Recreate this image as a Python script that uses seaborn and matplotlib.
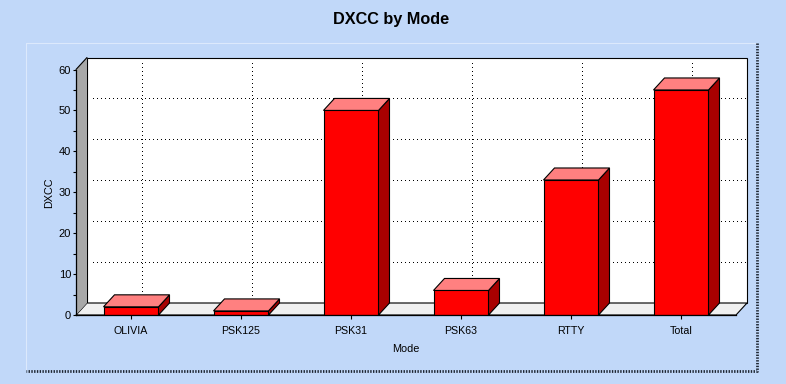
import matplotlib
matplotlib.use('Agg')
import matplotlib.pyplot as plt
import seaborn as sns
import pandas as pd
from matplotlib.lines import Line2D
from matplotlib.patches import Polygon
from matplotlib.ticker import MultipleLocator

modes = ['OLIVIA', 'PSK125', 'PSK31', 'PSK63', 'RTTY', 'Total']
dxcc = [2, 1, 50, 6, 33, 55]

W, H = 786, 384
BG = '#C1D8F9'
# depth of the fake 3d box in data units (11px across, 12px up)
DX = 0.1
DY = 2.93

sns.set_theme(style='white')
plt.rcParams['font.family'] = ['Liberation Sans', 'DejaVu Sans']

fig = plt.figure(figsize=(W / 100, H / 100), dpi=100, facecolor=BG)

# panel border
def fig_line(xs, ys, **kw):
    fig.add_artist(Line2D([x / W for x in xs], [1 - y / H for y in ys], **kw))

fig_line([25.5, 25.5, 756], [370, 42.5, 42.5], color='#DCE9FC', lw=0.8)
fig_line([757, 757, 26], [43, 371, 371], color='#1F2733', lw=2, ls=(0, (0.5, 0.5)))

ax = fig.add_axes([76 / W, (H - 315) / H, 660 / W, 245.5 / H])
ax.patch.set_alpha(0)

df = pd.DataFrame({'Mode': modes, 'DXCC': dxcc})
sns.barplot(data=df, x='Mode', y='DXCC', ax=ax, color='#FF0000', saturation=1,
            width=0.5, edgecolor='black', linewidth=0.8, zorder=5)
ax.set_xlim(-0.5, 5.5)
ax.set_ylim(0, 60)


def face(points, color, z, edge='black'):
    ax.add_patch(Polygon(points, closed=True, facecolor=color, edgecolor=edge,
                         linewidth=0.8, clip_on=False, zorder=z))


# walls and floor
face([(-0.5 + DX, DY), (5.5 + DX, DY), (5.5 + DX, 60 + DY), (-0.5 + DX, 60 + DY)], 'white', 1)
face([(-0.5, 0), (5.5, 0), (5.5 + DX, DY), (-0.5 + DX, DY)], '#F0F0F0', 2)
face([(-0.5, 0), (-0.5, 60), (-0.5 + DX, 60 + DY), (-0.5 + DX, DY)], '#A8A8A8', 2, edge='none')
ax.plot([-0.5, -0.5 + DX], [60, 60 + DY], color='black', lw=0.8, clip_on=False, zorder=3)

# dotted grid on the back wall
dots = dict(color='black', lw=1, ls=(0, (0.72, 2.88)), clip_on=False, zorder=3,
            antialiased=False)
for v in range(10, 60, 10):
    ax.plot([-0.45 + DX, 5.49 + DX], [v + DY, v + DY], **dots)
for i in range(len(modes)):
    ax.plot([i + DX, i + DX], [DY, 58.8 + DY], **dots)

# side and top of each bar
for bar in ax.patches[:len(modes)]:
    x0, x1 = bar.get_x(), bar.get_x() + bar.get_width()
    top = bar.get_height()
    face([(x1, 0), (x1 + DX, DY), (x1 + DX, top + DY), (x1, top)], '#A80000', 6)
    face([(x0, top), (x1, top), (x1 + DX, top + DY), (x0 + DX, top + DY)], '#FF8080', 6)

for name in ['top', 'right']:
    ax.spines[name].set_visible(False)
for name in ['left', 'bottom']:
    ax.spines[name].set_color('black')
    ax.spines[name].set_linewidth(0.9)
    ax.spines[name].set_zorder(7)

ax.yaxis.set_major_locator(MultipleLocator(10))
ax.yaxis.set_minor_locator(MultipleLocator(5))
ax.tick_params(axis='y', which='both', left=True, direction='inout', length=5, width=0.8,
               color='black', labelsize=8, labelcolor='black', pad=1)
ax.tick_params(axis='x', bottom=True, direction='out', length=3, width=0.8,
               color='black', labelsize=7.7, labelcolor='black', pad=5)

ax.set_xlabel('Mode', fontsize=7.8, color='black', labelpad=6)
ax.set_ylabel('DXCC', fontsize=7.8, color='black', labelpad=3)
fig.text(391 / W, 1 - 19.5 / H, 'DXCC by Mode', ha='center', va='center',
         fontsize=11.7, fontweight='bold', color='black')

fig.savefig('out.png', dpi=100, facecolor=BG)
